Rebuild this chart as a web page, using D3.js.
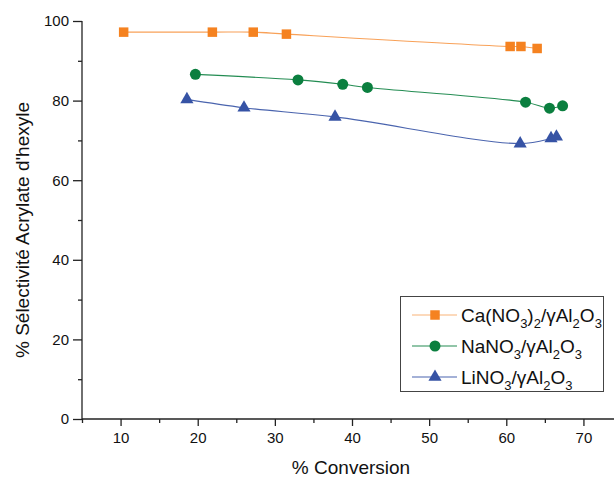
<!DOCTYPE html>
<html><head><meta charset="utf-8">
<script src="https://cdn.jsdelivr.net/npm/d3@7"></script>
<style>body{margin:0;background:#fff}svg{display:block;font-family:"Liberation Sans",Arial,sans-serif}</style>
</head><body>
<script>
const caX = [10.4, 21.9, 27.2, 31.5, 60.5, 61.9, 64.0];
const caY = [97.2, 97.2, 97.2, 96.7, 93.6, 93.6, 93.1];
const naX = [19.7, 33.0, 38.8, 42.0, 62.5, 65.6, 67.3];
const naY = [86.6, 85.2, 84.1, 83.3, 79.6, 78.1, 78.7];
const liX = [18.6, 26.0, 37.8, 61.8, 65.8, 66.5];
const liY = [80.3, 78.2, 75.9, 69.2, 70.5, 70.9];
const xTicks = [10, 20, 30, 40, 50, 60, 70];
const yTicks = [0, 20, 40, 60, 80, 100];
const seriesNames = [
  [["Ca(NO",0],["3",1],[")",0],["2",1],["/γAl",0],["2",1],["O",0],["3",1]],
  [["NaNO",0],["3",1],["/γAl",0],["2",1],["O",0],["3",1]],
  [["LiNO",0],["3",1],["/γAl",0],["2",1],["O",0],["3",1]]
];
const colors = ["#f58220", "#0b7f3f", "#3653a5"];
const shapes = [d3.symbolSquare, d3.symbolCircle, d3.symbolTriangle];
const sizes = [90, 95, 75];

const W = 614, H = 477;
const svg = d3.select("body").append("svg").attr("width", W).attr("height", H);
const x = d3.scaleLinear().domain([5, 75]).range([82, 622]);
const y = d3.scaleLinear().domain([0, 100]).range([419, 21]);

// axes
const xAxis = d3.axisBottom(x).tickValues(d3.range(5, 75, 5)).tickSize(4)
  .tickFormat(d => xTicks.includes(d) ? d : "");
const gx = svg.append("g").attr("transform", "translate(0,419)").call(xAxis);
gx.selectAll(".tick line").attr("y2", d => xTicks.includes(d) ? 7 : 4);
gx.selectAll(".tick text").attr("y", 13).attr("font-size", 15).attr("fill", "#111");

const yAxis = d3.axisLeft(y).tickValues(d3.range(0, 101, 10)).tickSize(4)
  .tickFormat(d => yTicks.includes(d) ? d : "");
const gy = svg.append("g").attr("transform", "translate(82,0)").call(yAxis);
gy.selectAll(".tick line").attr("x2", d => yTicks.includes(d) ? -9 : -4);
gy.selectAll(".tick text").attr("x", -13).attr("font-size", 15).attr("fill", "#111");
svg.selectAll(".domain").attr("stroke", "#222").attr("stroke-width", 1.3);
svg.selectAll(".tick line").attr("stroke", "#222").attr("stroke-width", 1.3);
gy.select(".domain").attr("d", "M82,419V21".replace("82","0"));
gx.select(".domain").attr("d", `M${x(5)},0H${x(75)}`);

// titles
svg.append("text").attr("x", 351).attr("y", 474).attr("text-anchor", "middle")
  .attr("font-size", 19).attr("fill", "#111").text("% Conversion");
svg.append("text").attr("transform", "translate(29,230) rotate(-90)").attr("text-anchor", "middle")
  .attr("font-size", 19).attr("fill", "#111").text("% Sélectivité Acrylate d'hexyle");

// series
const data = [[caX, caY], [naX, naY], [liX, liY]];
const line = d3.line().x(d => x(d[0])).y(d => y(d[1])).curve(d3.curveCatmullRom.alpha(0.5));
data.forEach(([xs, ys], i) => {
  const pts = xs.map((v, j) => [v, ys[j]]);
  svg.append("path").datum(pts).attr("d", line).attr("fill", "none")
    .attr("stroke", colors[i]).attr("stroke-width", 1.1).attr("stroke-opacity", i === 0 ? 0.75 : 0.9);
  svg.append("g").selectAll("path").data(pts).join("path")
    .attr("transform", d => `translate(${x(d[0])},${y(d[1])})`)
    .attr("d", d3.symbol().type(shapes[i]).size(sizes[i]))
    .attr("fill", colors[i]);
});

// legend
const lg = svg.append("g");
lg.append("rect").attr("x", 400.5).attr("y", 296.5).attr("width", 203).attr("height", 95)
  .attr("fill", "#fff").attr("stroke", "#444").attr("stroke-width", 1);
seriesNames.forEach((parts, i) => {
  const ry = 315 + i * 31;
  lg.append("line").attr("x1", 412).attr("x2", 457).attr("y1", ry).attr("y2", ry)
    .attr("stroke", colors[i]).attr("stroke-width", 1.1).attr("stroke-opacity", i === 0 ? 0.6 : 0.9);
  lg.append("path").attr("transform", `translate(435,${ry})`)
    .attr("d", d3.symbol().type(shapes[i]).size(sizes[i])).attr("fill", colors[i]);
  const t = lg.append("text").attr("x", 461).attr("y", ry + 7).attr("font-size", 19).attr("fill", "#111");
  let sub = false;
  parts.forEach(([s, isSub]) => {
    const ts = t.append("tspan").text(s);
    if (isSub && !sub) { ts.attr("dy", 6).attr("font-size", 13); }
    else if (!isSub && sub) { ts.attr("dy", -6); }
    else if (isSub) ts.attr("font-size", 13);
    sub = !!isSub;
  });
});
</script>
</body></html>
